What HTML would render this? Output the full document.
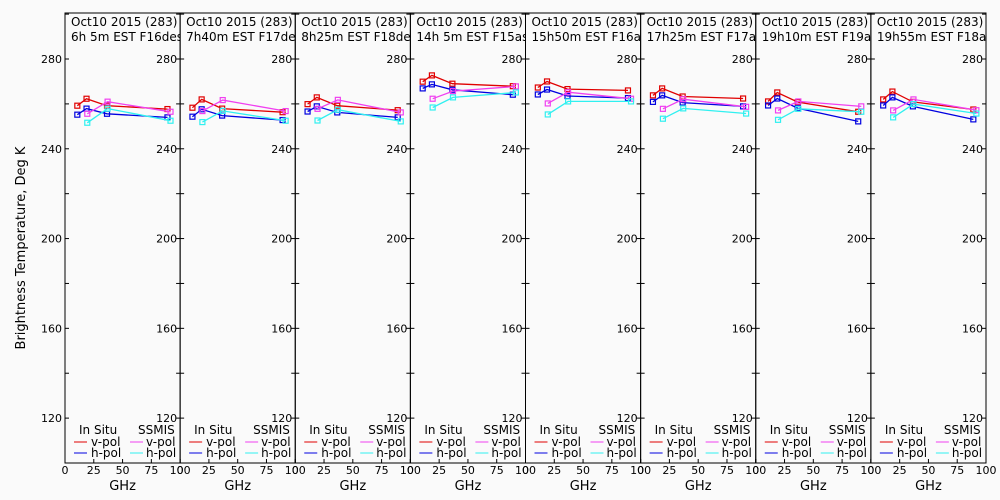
<!DOCTYPE html>
<html><head><meta charset="utf-8"><style>
html,body{margin:0;padding:0;background:#fafafa;}
svg{display:block;font-family:"DejaVu Sans","Liberation Sans",sans-serif;}
</style></head><body>
<svg id="chart" width="1000" height="500" viewBox="0 0 1000 500">
<rect x="0" y="0" width="1000" height="500" fill="#fafafa"/>
<text x="0" y="0" transform="translate(25,248) rotate(-90)" text-anchor="middle" font-size="13" fill="#000">Brightness Temperature, Deg K</text>
<g id="panels"></g>
</svg>
<script>
const titles1 = ["Oct10 2015 (283)","Oct10 2015 (283)","Oct10 2015 (283)","Oct10 2015 (283)","Oct10 2015 (283)","Oct10 2015 (283)","Oct10 2015 (283)","Oct10 2015 (283)"];
const titles2 = ["6h 5m EST F16des","7h40m EST F17des","8h25m EST F18des","14h 5m EST F15asc","15h50m EST F16asc","17h25m EST F17asc","19h10m EST F19asc","19h55m EST F18asc"];
const insituFreq = [10.7, 18.7, 36.5, 89];
const ssmisFreq = [19.35, 37, 91.65];
const insituV = [
 [259.2,262.3,259.2,257.7],[258.3,262,257.9,256.3],[259.9,262.9,259.2,257.2],[269.9,272.7,269,267.9],
 [267.3,270,266.6,266],[263.8,266.9,263.3,262.4],[261.1,265.1,260.8,256.5],[262,265.5,260.9,257.5]];
const insituH = [
 [255.2,257.9,255.6,254],[254.3,257.6,254.8,252.8],[256.6,258.9,256.2,254],[266.9,268.7,266.3,264.1],
 [264.2,266.4,263.5,262.6],[260.9,263.8,260.6,258.9],[259.3,262.4,258.1,252.2],[259.3,262.9,258.9,253.1]];
const ssmisV = [
 [255.6,261,256.5],[256.8,261.7,256.8],[257.8,261.8,256.2],[262.3,265.7,267.8],
 [260.2,265.2,262.3],[257.8,262.1,258.7],[257.1,261.1,258.9],[257.1,262,257.2]];
const ssmisH = [
 [251.6,257.9,252.5],[251.9,256.9,252.5],[252.6,257.4,252.2],[258.4,262.9,265.1],
 [255.3,261.1,261.1],[253.4,258,255.7],[252.9,257.8,256.5],[254,259.9,255.7]];
const yTickLabels = [120,160,200,240,280];
const xTickLabels = [0,25,50,75,100];

const NS="http://www.w3.org/2000/svg";
const X0=65, PW=115.125, YT=13, YB=463, VMIN=100, VMAX=300.5;
const yScale=v=>YB-(v-VMIN)/(VMAX-VMIN)*(YB-YT);
const colors={iv:"#e00000",ih:"#0000e0",sv:"#f040f0",sh:"#30f0f0"};
const root=document.getElementById('panels');
function mk(tag,attrs,parent){const e=document.createElementNS(NS,tag);for(const k in attrs)e.setAttribute(k,attrs[k]);(parent||root).appendChild(e);return e;}

for(let p=0;p<8;p++){
  const px=X0+p*PW;
  const xScale=f=>px+f/100*PW;
  const g=mk('g',{});
  
  
  const cp=mk('clipPath',{id:'cp'+p},g);
  mk('rect',{x:px,y:0,width:PW,height:60},cp);
  const fr=mk('rect',{x:px,y:YT,width:PW,height:YB-YT,fill:'none',stroke:'#000','stroke-width':1},g);
  
  
  const t1=mk('text',{x:px+6,y:26,'font-size':12,fill:'#000','clip-path':'url(#cp'+p+')'},g);
  t1.textContent=titles1[p];
  
  
  const t2=mk('text',{x:px+6,y:41,'font-size':12,fill:'#000','clip-path':'url(#cp'+p+')'},g);
  t2.textContent=titles2[p];
  
  
  for(let v=120;v<=300;v+=20){
    const y=yScale(v);
    mk('line',{x1:px,x2:px+4,y1:y,y2:y,stroke:'#000'},g);
    mk('line',{x1:px+PW-4,x2:px+PW,y1:y,y2:y,stroke:'#000'},g);
  }
  yTickLabels.forEach(v=>{
    const t=mk('text',{x:px+PW-3,y:yScale(v)+4,'font-size':11,'text-anchor':'end',fill:'#000'},g);
    t.textContent=v;
    
    
    if(p===0){
      const t0=mk('text',{x:px-3,y:yScale(v)+4,'font-size':11,'text-anchor':'end',fill:'#000'},g);
      t0.textContent=v;
      
      
    }
  });
  xTickLabels.forEach(f=>{
    const x=xScale(f);
    mk('line',{x1:x,x2:x,y1:YB,y2:YB-4,stroke:'#000'},g);
    const t=mk('text',{x:x,y:474,'font-size':11,'text-anchor':'middle',fill:'#000'},g);
    t.textContent=f;
    
    
  });
  const gx=mk('text',{x:px+PW/2,y:490,'font-size':13,'text-anchor':'middle',fill:'#000'},g);
  gx.textContent='GHz';
  
  
  const series=[[insituV[p],insituFreq,colors.iv,'insitu-vpol'],[insituH[p],insituFreq,colors.ih,'insitu-hpol'],[ssmisV[p],ssmisFreq,colors.sv,'ssmis-vpol'],[ssmisH[p],ssmisFreq,colors.sh,'ssmis-hpol']];
  series.forEach(([vals,fr,c,nm])=>{
    const pts=vals.map((v,i)=>xScale(fr[i]).toFixed(1)+','+yScale(v).toFixed(1)).join(' ');
    const pl=mk('polyline',{points:pts,fill:'none',stroke:c,'stroke-width':1.3},g);
    
    
    vals.forEach((v,i)=>{
      const r=mk('rect',{x:xScale(fr[i])-2.5,y:yScale(v)-2.5,width:5,height:5,fill:'none',stroke:c,'stroke-width':1.2},g);
      
      
    });
  });
  const lg=mk('g',{},g);
  
  
  const a=mk('text',{x:px+14,y:434,'font-size':12,fill:'#000'},lg); a.textContent='In Situ';
  const b=mk('text',{x:px+73,y:434,'font-size':12,fill:'#000'},lg); b.textContent='SSMIS';
  [['v-pol',colors.iv,colors.sv,442],['h-pol',colors.ih,colors.sh,453]].forEach(([lab,c1,c2,y])=>{
    mk('line',{x1:px+9,x2:px+22,y1:y,y2:y,stroke:c1},lg);
    const t=mk('text',{x:px+26,y:y+4,'font-size':12,fill:'#000'},lg); t.textContent=lab;
    
    
    mk('line',{x1:px+65,x2:px+78,y1:y,y2:y,stroke:c2},lg);
    const t2b=mk('text',{x:px+81,y:y+4,'font-size':12,fill:'#000'},lg); t2b.textContent=lab;
    
    
  });
}
</script>
</body></html>
